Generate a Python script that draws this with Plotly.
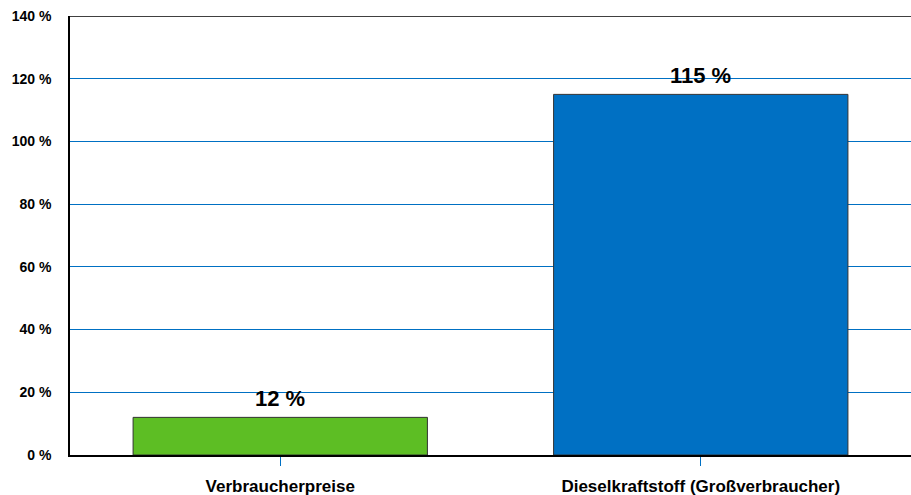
import plotly.graph_objects as go

categories = ["Verbraucherpreise", "Dieselkraftstoff (Großverbraucher)"]
values = [12, 115]
colors = ["#5DBE24", "#0070C3"]
y_ticks = [0, 20, 40, 60, 80, 100, 120, 140]
y_tick_labels = [f"{v} %" for v in y_ticks]
value_labels = [f"{v} %" for v in values]

FONT = "Liberation Sans, Arial, sans-serif"

fig = go.Figure()
fig.add_trace(go.Bar(
    x=categories, y=values,
    marker=dict(color=colors, line=dict(color="#333333", width=1)),
    width=0.7,
    hoverinfo="skip",
))

for c, v, t in zip(categories, values, value_labels):
    fig.add_annotation(x=c, y=v, text=f"<b>{t}</b>", showarrow=False,
                       yanchor="bottom", yshift=4,
                       font=dict(family=FONT, size=22, color="black"))

# top border
fig.add_shape(type="line", xref="paper", yref="y", x0=0, x1=1, y0=140, y1=140,
              line=dict(color="black", width=1.5), layer="above")

fig.update_layout(
    width=911, height=495,
    margin=dict(l=70, r=0, t=16, b=40),
    paper_bgcolor="white", plot_bgcolor="white",
    showlegend=False,
    font=dict(family=FONT, color="black"),
    xaxis=dict(
        showline=True, linecolor="black", linewidth=1.5,
        ticks="outside", tickcolor="#0070C3", ticklen=9, tickwidth=1,
        tickfont=dict(family=FONT, size=17, color="black", weight="bold"),
        ticklabelstandoff=6,
        showgrid=False,
    ),
    yaxis=dict(
        range=[0, 140],
        tickvals=y_ticks, ticktext=y_tick_labels,
        showline=True, linecolor="black", linewidth=1.5,
        gridcolor="#0070C3", gridwidth=1,
        zeroline=False,
        ticks="",
        tickfont=dict(family=FONT, size=14, color="black", weight="bold"),
        ticklabelstandoff=14,
    ),
)

fig.write_html("out.html", config={"displayModeBar": False},
               post_script="document.body.style.margin='0';document.body.style.padding='0';")
